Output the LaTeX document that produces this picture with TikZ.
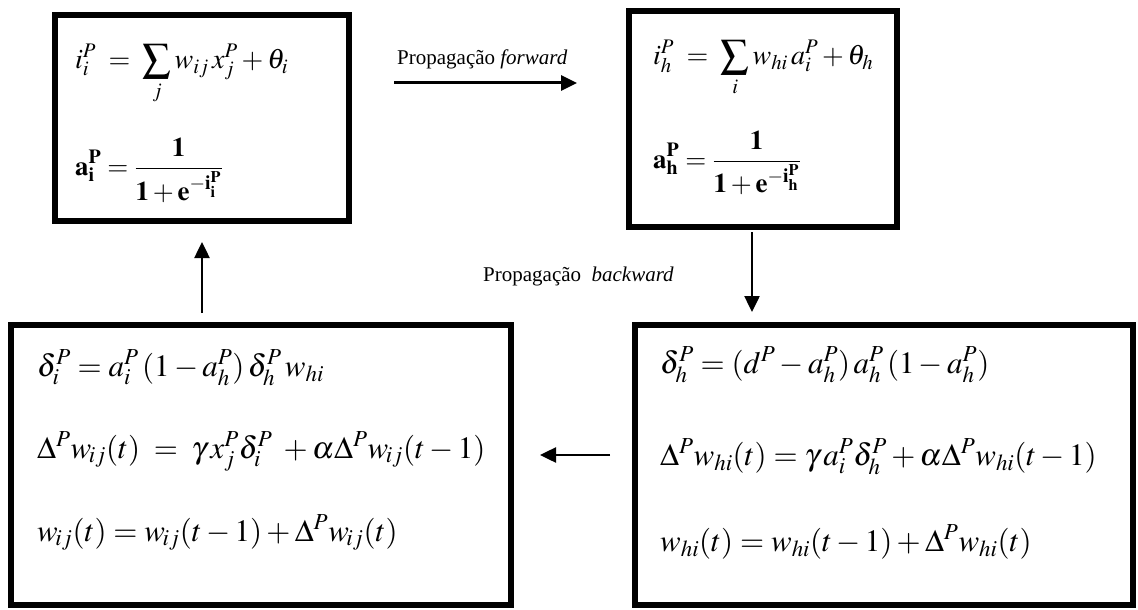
\documentclass[tikz,border=0pt]{standalone}
\usepackage{mathptmx}
\usepackage[no-math]{fontspec}
\setmainfont{Liberation Serif}
\usetikzlibrary{arrows.meta,calc}
\begin{document}
\begin{tikzpicture}[x=1pt,y=-1pt,
  box/.style={draw, line width=6pt, inner sep=0pt, outer sep=0pt},
  conn/.style={line width=3pt, -{Triangle[length=16pt,width=15pt]}},
  eqtop/.style={anchor=base west, inner sep=0pt, font=\fontsize{28}{32}\selectfont},
  eqfrac/.style={anchor=base west, inner sep=0pt, font=\fontsize{27}{31}\selectfont},
  eqbot/.style={anchor=base west, inner sep=0pt, font=\fontsize{31}{36}\selectfont},
  lbl/.style={anchor=base west, inner sep=0pt, font=\fontsize{21}{25}\selectfont}]
\useasboundingbox (0,0) rectangle (1138,610);
% boxes
\node[box, minimum width=294pt, minimum height=206pt] (A) at (202,118) {};
\node[box, minimum width=268pt, minimum height=216pt] (B) at (763,119) {};
\node[box, minimum width=500pt, minimum height=280pt] (C) at (261,465) {};
\node[box, minimum width=498pt, minimum height=280pt] (D) at (884,465) {};
% equations top-left
\node[eqtop] (A1) at (75,69) {$\displaystyle i_i^P \;=\; \sum_j w_{ij}\, x_j^P + \theta_i$};
\node[eqfrac] (A2) at (75,175) {$\displaystyle \mathbf{a}_{\mathbf{i}}^{\mathbf{P}} = \frac{\mathbf{1}}{\mathbf{1}+\mathbf{e}^{-\mathbf{i}_{\mathbf{i}}^{\mathbf{P}}}}$};
% top-right
\node[eqtop] (B1) at (653,65) {$\displaystyle i_h^P \;=\; \sum_i w_{hi}\, a_i^P + \theta_h$};
\node[eqfrac] (B2) at (653,168) {$\displaystyle \mathbf{a}_{\mathbf{h}}^{\mathbf{P}} = \frac{\mathbf{1}}{\mathbf{1}+\mathbf{e}^{-\mathbf{i}_{\mathbf{h}}^{\mathbf{P}}}}$};
% bottom-left
\node[eqbot] (C1) at (37,376) {$\delta_i^P = a_i^P\,(1-a_h^P)\,\delta_h^P\, w_{hi}$};
\node[eqbot] (C2) at (37,458) {$\Delta^P w_{\!ij}(t) \;=\; \gamma\, x_j^P \delta_i^P \;+ \alpha \Delta^P w_{\!ij}(t-1)$};
\node[eqbot] (C3) at (37,541) {$w_{\!ij}(t) = w_{\!ij}(t-1) + \Delta^P w_{\!ij}(t)$};
% bottom-right
\node[eqbot] (D1) at (660,373) {$\delta_h^P = (d^P - a_h^P)\, a_h^P\, (1-a_h^P)$};
\node[eqbot] (D2) at (660,465) {$\Delta^P w_{hi}(t) = \gamma\, a_i^P \delta_h^P + \alpha \Delta^P w_{hi}(t-1)$};
\node[eqbot] (D3) at (660,551) {$w_{hi}(t) = w_{hi}(t-1) + \Delta^P w_{hi}(t)$};
% labels
\node[lbl] (Lf) at (397,64) {Propagação \textit{forward}};
\node[lbl] (Lb) at (483,281) {Propagação~~\textit{backward}};
% connectors
\draw[conn, shorten <=45pt, shorten >=52pt] (A.east |- 0,83) -- (B.west |- 0,83);
\draw[conn, line width=2.5pt, shorten <=5pt, shorten >=13pt] ([xshift=-11pt]B.south) -- ([xshift=-11pt]B.south |- D.north);
\draw[conn, line width=2.5pt, shorten <=25pt, shorten >=29pt] (D.west |- 0,455) -- (C.east |- 0,455);
\draw[conn, line width=2.5pt, shorten <=12pt, shorten >=21pt] (A.south |- C.north) -- (A.south);
\end{tikzpicture}
\end{document}
